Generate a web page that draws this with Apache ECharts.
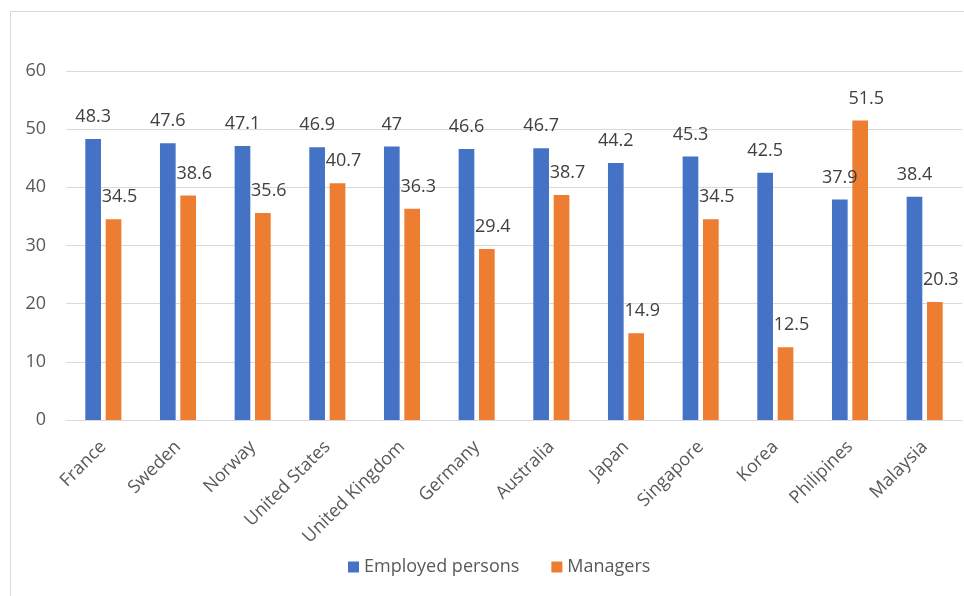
<!DOCTYPE html>
<html>
<head>
<meta charset="utf-8">
<script src="https://cdn.jsdelivr.net/npm/echarts@6/dist/echarts.min.js"></script>
<style>
  html, body { margin: 0; padding: 0; background: #fff; }
  #chart-container { width: 964px; height: 596px; }
</style>
</head>
<body>
<div id="chart-container"></div>
<script>
var dom = document.getElementById("chart-container");
var myChart = echarts.init(dom, null, { renderer: "canvas" });

const countries = ["France", "Sweden", "Norway", "United States", "United Kingdom", "Germany",
  "Australia", "Japan", "Singapore", "Korea", "Philipines", "Malaysia"];
const employed = [48.3, 47.6, 47.1, 46.9, 47, 46.6, 46.7, 44.2, 45.3, 42.5, 37.9, 38.4];
const managers = [34.5, 38.6, 35.6, 40.7, 36.3, 29.4, 38.7, 14.9, 34.5, 12.5, 51.5, 20.3];
const seriesNames = ["Employed persons", "Managers"];
const colors = ["#4472C4", "#ED7D31"];

const font = "'Open Sans', 'Noto Sans', sans-serif";
const fs = 18;

const series = [employed, managers].map((data, i) => ({
  name: seriesNames[i],
  type: "bar",
  barWidth: "21%",
  barGap: "30%",
  itemStyle: { color: colors[i] },
  label: {
    show: true,
    position: "top",
    distance: 13,
    offset: [i === 1 ? 6 : 0, 0],
    color: "#404040",
    fontSize: fs,
    fontFamily: font,
  },
  data,
}));

var option = {
  animation: false,
  textStyle: { fontFamily: font },
  graphic: [{
    type: "rect",
    shape: { x: 10.5, y: 11.5, width: 1000, height: 1000 },
    style: { fill: "none", stroke: "#d9d9d9", lineWidth: 1 },
  }],
  legend: {
    left: 343,
    bottom: 15,
    itemWidth: 11,
    itemHeight: 11,
    itemGap: 32,
    icon: "rect",
    textStyle: { color: "#595959", fontSize: fs, fontFamily: font },
    data: seriesNames,
  },
  grid: { left: 66, right: 2, top: 71, bottom: 176 },
  xAxis: {
    type: "category",
    data: countries,
    axisLine: { lineStyle: { color: "#d9d9d9" } },
    axisTick: { show: false },
    axisLabel: {
      rotate: 45,
      interval: 0,
      margin: 24,
      color: "#595959",
      fontSize: fs,
      fontFamily: font,
    },
  },
  yAxis: {
    type: "value",
    min: 0,
    max: 60,
    interval: 10,
    axisLine: { show: false },
    axisTick: { show: false },
    splitLine: { lineStyle: { color: "#d9d9d9" } },
    axisLabel: { margin: 20, color: "#595959", fontSize: fs, fontFamily: font },
  },
  series,
};

myChart.setOption(option);
window.addEventListener("resize", myChart.resize);
</script>
</body>
</html>
